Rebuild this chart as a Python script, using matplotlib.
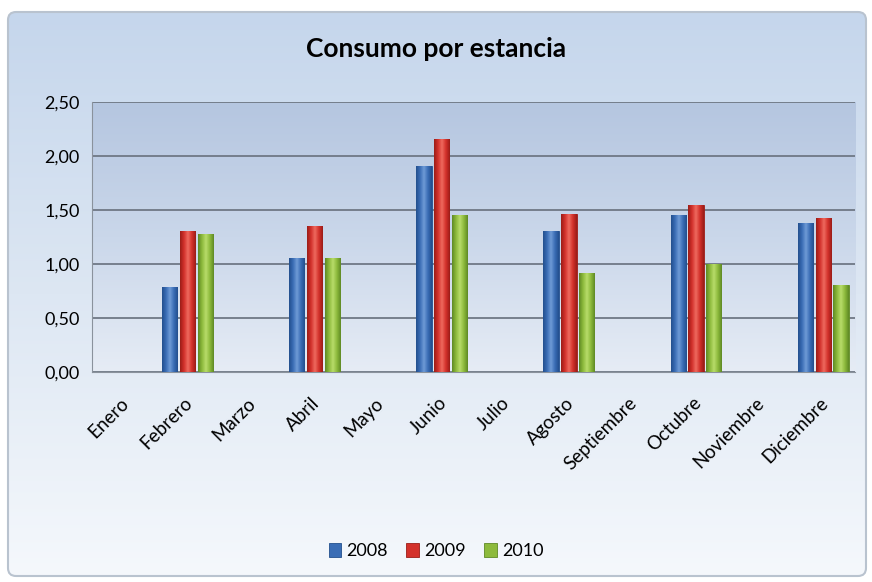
import numpy as np
import matplotlib
matplotlib.use('Agg')
import matplotlib.pyplot as plt
import matplotlib.transforms as mtransforms
from matplotlib.patches import FancyBboxPatch
from matplotlib.ticker import FuncFormatter

# Data (empty months have no bars)
months = ['Enero', 'Febrero', 'Marzo', 'Abril', 'Mayo', 'Junio', 'Julio',
          'Agosto', 'Septiembre', 'Octubre', 'Noviembre', 'Diciembre']
years = ['2008', '2009', '2010']
v2008 = [np.nan, 0.79, np.nan, 1.06, np.nan, 1.91, np.nan, 1.31, np.nan, 1.45, np.nan, 1.38]
v2009 = [np.nan, 1.31, np.nan, 1.35, np.nan, 2.16, np.nan, 1.46, np.nan, 1.55, np.nan, 1.43]
v2010 = [np.nan, 1.28, np.nan, 1.06, np.nan, 1.45, np.nan, 0.92, np.nan, 1.00, np.nan, 0.81]
colors = ['#3a6db5', '#d3312b', '#8dba3c']
dark = ['#234f8e', '#9b1d18', '#5f8a25']
light = ['#6f9bd6', '#ee6a5f', '#b8dc6a']

plt.rcParams['font.family'] = ['Lato', 'DejaVu Sans']

fig = plt.figure(figsize=(8.72, 5.82), dpi=100)
fig.patch.set_facecolor('white')

# outer panel with a soft vertical gradient
bg = fig.add_axes([0, 0, 1, 1], zorder=-10)
bg.set_xlim(0, 872)
bg.set_ylim(582, 0)
bg.axis('off')
grad = np.linspace(0, 1, 256).reshape(-1, 1)
panel_cmap = matplotlib.colors.LinearSegmentedColormap.from_list('p', ['#c5d6ec', '#dde7f3', '#f5f8fc'])
im = bg.imshow(grad, cmap=panel_cmap, aspect='auto', extent=(8, 866, 576, 12))
box = FancyBboxPatch((8, 12), 858, 564, boxstyle='round,pad=0,rounding_size=8',
                     facecolor='none', edgecolor='#b9c3cf', linewidth=1.5)
bg.add_patch(box)
im.set_clip_path(box)

ax = fig.add_axes([0.1055, 0.3608, 0.875, 0.4639])
inner_cmap = matplotlib.colors.LinearSegmentedColormap.from_list('i', ['#b5c6e0', '#cad7ea', '#e6ecf5'])
ax.imshow(grad, cmap=inner_cmap, aspect='auto', extent=(-0.5, 11.5, 0, 2.5), zorder=0)

x = np.arange(len(months))
w = 0.24
gap = 0.04
hgrad = np.linspace(0, 1, 64).reshape(1, -1)
for i, vals in enumerate([v2008, v2009, v2010]):
    bars = ax.bar(x + (i - 1) * (w + gap), vals, width=w, color=colors[i],
                  edgecolor=dark[i], linewidth=0.6, label=years[i], zorder=3)
    # cylinder-like shading on each bar
    cyl = matplotlib.colors.LinearSegmentedColormap.from_list(
        'c%d' % i, [dark[i], colors[i], light[i], colors[i], dark[i]])
    for b in bars:
        if np.isnan(b.get_height()):
            continue
        x0, y0 = b.get_x(), b.get_y()
        shade = ax.imshow(hgrad, cmap=cyl, aspect='auto', zorder=3.5,
                          extent=(x0, x0 + b.get_width(), y0, y0 + b.get_height()))
        shade.set_clip_path(b)

ax.set_xlim(-0.5, 11.5)
ax.set_ylim(0, 2.5)
ax.set_yticks(np.arange(0, 2.51, 0.5))
ax.yaxis.set_major_formatter(FuncFormatter(lambda v, p: f'{v:.2f}'.replace('.', ',')))
ax.grid(axis='y', color='#6f7885', linewidth=1.3, zorder=1)
ax.set_axisbelow(True)
ax.set_xticks(x)
ax.set_xticklabels(months, rotation=45, ha='right', rotation_mode='anchor')
ax.tick_params(axis='y', length=0, labelsize=13, pad=9)
ax.tick_params(axis='x', length=0, labelsize=13.5, pad=16)
shift = mtransforms.ScaledTranslation(-4 / 100, 0, fig.dpi_scale_trans)
for lbl in ax.get_xticklabels():
    lbl.set_transform(lbl.get_transform() + shift)
for s in ['top', 'right']:
    ax.spines[s].set_visible(False)
ax.spines['left'].set_color('#8a929c')
ax.spines['bottom'].set_color('#8a929c')
ax.set_facecolor('none')

fig.text(0.5, 0.915, 'Consumo por estancia', ha='center', va='center',
         fontsize=19, fontweight='bold')

fig.legend(loc='center', bbox_to_anchor=(0.5, 0.053), ncol=3, frameon=False,
           fontsize=13, handlelength=0.7, handleheight=0.8, handletextpad=0.3,
           columnspacing=1.0)

fig.savefig('out.png', dpi=100)
